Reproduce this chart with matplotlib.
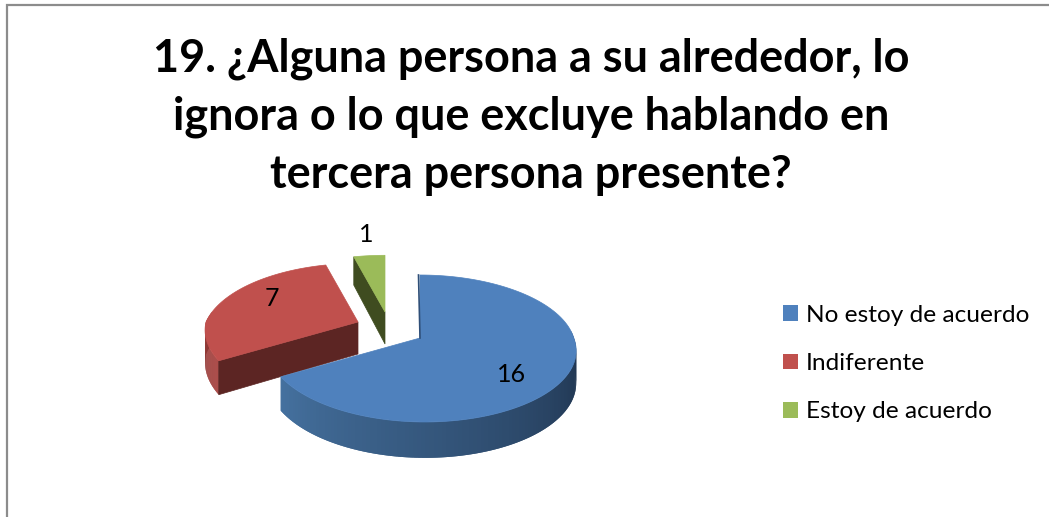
import numpy as np
import matplotlib
matplotlib.use("Agg")
import matplotlib.pyplot as plt
from matplotlib.patches import Patch
from matplotlib.colors import to_rgb

title_lines = ["19. ¿Alguna persona a su alrededor, lo",
               "ignora o lo que excluye hablando en",
               "tercera persona presente?"]
categories = ["No estoy de acuerdo", "Indiferente", "Estoy de acuerdo"]
values = [16, 7, 1]
colors = ["#4F81BD", "#C0504D", "#9BBB59"]

W, H = 1049, 517
plt.rcParams['font.family'] = ['Lato', 'DejaVu Sans']
fig = plt.figure(figsize=(W/100, H/100), dpi=100, facecolor="white")
ax = fig.add_axes([0, 0, 1, 1])
ax.set_xlim(0, W); ax.set_ylim(H, 0); ax.axis("off")

# frame
ax.plot([7, 7, W], [H, 4.5, 4.5], color="#8c8c8c", lw=1.6, solid_joinstyle="miter", clip_on=False)

# projection of the pie disc
RY, K, SKEW, DEPTH = 72, 1/7, 5, 32

def proj(theta, r=1.0, apex=(420, 338), drop=0.0, back=0.0, rx=152):
    """theta in degrees clockwise from 12 o'clock."""
    t = np.radians(theta)
    u, v = r*np.sin(t), r*np.cos(t)
    d = 1 + K*v
    shrink = 1 - back*np.clip(v, 0, None)
    # the right side of the big slice reaches a little further out
    widen = 1 + 0.012*np.clip(u, 0, None)
    x = apex[0] + rx*u/d*shrink*widen - SKEW*np.minimum(v, 0)
    y = apex[1] - RY*v/d*shrink + drop*(1 - 0.12*v)
    return x, y

def mix(a, b, f):
    a, b = np.array(to_rgb(a)), np.array(to_rgb(b))
    return tuple(a + (b - a)*f)

fracs = np.array(values)/sum(values)*360
starts = np.concatenate([[0], np.cumsum(fracs)[:-1]])
ends = starts + fracs
apexes = [(420, 338), (358, 322), (385, 312)]
backs = [0.0, 0.07, 0.1]
cut_colors = [None, "#5C2523", "#3F4C20"]
wall_ranges = [(84, ends[0], "#1C2F48", "#45719F", 1.0),
               (ends[0], 278, "#A94643", "#8A3633", 1.0),
               None]

# outer walls
for wr, apex, bk in zip(wall_ranges, apexes, backs):
    if wr is None:
        continue
    a0, a1, c0, c1, pw = wr
    grid = np.linspace(a0, a1, 120)
    for i in range(len(grid) - 1):
        g = np.array([grid[i], grid[min(i+2, len(grid)-1)]])
        xt, yt = proj(g, apex=apex, back=bk)
        xb, yb = proj(g, apex=apex, drop=DEPTH, back=bk)
        f = i/(len(grid) - 2)
        ax.fill([xt[0], xt[1], xb[1], xb[0]], [yt[0], yt[1], yb[1], yb[0]],
                color=mix(c0, c1, f**pw), lw=0, zorder=2)

# cut walls on the leading edge of the red and green slices
for th, apex, col, bk in zip(starts, apexes, cut_colors, backs):
    if col is None:
        continue
    xe, ye = proj(th, apex=apex, back=bk)
    xe2, ye2 = proj(th, apex=apex, drop=DEPTH, back=bk)
    xa, ya = proj(0, 0, apex=apex, back=bk)
    xa2, ya2 = proj(0, 0, apex=apex, drop=DEPTH, back=bk)
    ax.fill([xa, xe, xe2, xa2], [ya, ye, ye2, ya2], color=col, lw=0.5, zorder=3)

# top faces
for s, e, apex, col, bk in zip(starts, ends, apexes, colors, backs):
    th = np.linspace(s, e, 120)
    x, y = proj(th, apex=apex, back=bk)
    ax.fill(np.r_[apex[0], x], np.r_[apex[1], y], color=col, lw=0.5, zorder=4)

# inner sliver of the blue slice
x0, y0 = proj(0, apex=apexes[0])
ax.plot([x0 - 1.5, apexes[0][0]], [y0, apexes[0][1]], color="#2F4F78", lw=1.2, zorder=5)

# data labels
for v, (tx, ty) in zip(values, [(512, 374), (272, 298), (366, 234)]):
    ax.text(tx, ty, str(v), fontsize=18, ha="center", va="center", color="black", zorder=6)

# title
for line, yy in zip(title_lines, [59, 117, 175]):
    ax.text(531, yy, line, fontsize=32.4, fontweight="bold", ha="center", va="center", color="black")

# legend
handles = [Patch(facecolor=c, edgecolor="none", label=l) for c, l in zip(colors, categories)]
ax.legend(handles=handles, loc="center left", bbox_to_anchor=(783/W, 1 - 363.5/H),
          frameon=False, fontsize=17.6, handlelength=0.61, handleheight=0.61,
          handletextpad=0.33, labelspacing=1.12, borderpad=0, borderaxespad=0)

fig.savefig("out.png", dpi=100, facecolor="white")
